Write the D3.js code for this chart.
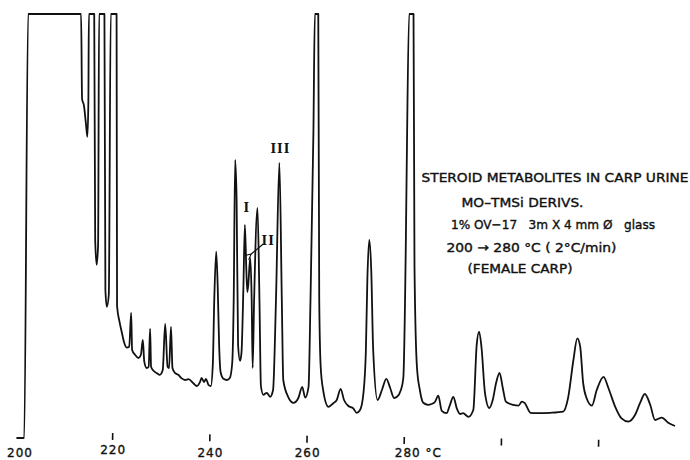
<!DOCTYPE html>
<html>
<head>
<meta charset="utf-8">
<script src="https://cdn.jsdelivr.net/npm/d3@7"></script>
<style>
  body { margin: 0; background: #fff; }
  svg { display: block; }
</style>
</head>
<body>
<script>
// column temperature (deg C), one per trace point
var temps = [
  200.3, 201.9, 202.7, 213.6, 213.8, 214.2, 214.6, 214.9, 215.1, 215.2,
  216.3, 216.5, 216.8, 217.1, 217.3, 218.4, 218.6, 218.9, 219.3, 219.7,
  220.9, 221.0, 221.5, 222.0, 222.4, 223.0, 223.5, 223.9, 224.1, 224.7,
  225.4, 225.9, 226.3, 226.6, 227.1, 227.5, 227.8, 228.0, 228.5, 229.2,
  229.8, 230.4, 230.9, 231.4, 231.7, 232.1, 232.4, 232.9, 233.6, 234.3,
  235.0, 235.7, 236.7, 237.4, 238.1, 238.4, 238.9, 239.3, 239.8, 240.3,
  240.7, 241.0, 241.4, 241.7, 242.0, 242.3, 242.9, 243.6, 244.2, 244.7,
  245.0, 245.3, 245.6, 245.9, 246.3, 246.6, 247.0, 247.3, 247.6, 247.8,
  248.0, 248.4, 248.7, 248.9, 249.2, 249.9, 250.3, 250.6, 251.1, 251.8,
  252.5, 253.1, 253.7, 254.4, 254.9, 255.2, 256.2, 257.3, 258.3, 259.1,
  259.7, 260.4, 260.8, 261.4, 261.7, 262.4, 262.6, 262.9, 263.4, 264.5,
  265.5, 266.2, 267.0, 267.7, 268.6, 269.6, 270.3, 271.0, 271.7, 272.2,
  272.5, 272.9, 273.3, 273.7, 274.6, 275.5, 276.4, 277.2, 278.0, 278.6,
  279.4, 279.9, 280.4, 280.6, 281.1, 282.0, 282.2, 282.7, 283.3, 284.0,
  285.0, 285.7, 286.4, 287.1, 287.8, 288.8, 289.5, 290.2, 290.9, 291.6,
  292.2, 293.3, 294.3, 295.0, 295.5, 296.0, 296.7, 297.6, 298.3, 299.0,
  299.7, 300.4, 301.0, 302.5, 303.6, 304.3, 304.9, 306.1, 307.3, 310.1,
  312.8, 313.8, 314.9, 315.7, 316.3, 316.9, 317.6, 318.7, 319.7, 321.1,
  322.1, 323.5, 324.8, 326.2, 327.6, 328.6, 329.6, 330.7, 331.7, 333.1,
  334.4, 335.8
];

// detector response (arbitrary units, 106 = pen at full scale)
var response = [
  0, 0, 106, 106, 84.8, 83, 78.5, 75.3, 84.5, 106,
  106, 49.5, 43.3, 48.3, 106, 106, 37, 32.8, 35.8, 106,
  106, 33, 29.1, 26.3, 24.1, 22.6, 22.8, 31.3, 22, 20.8,
  20, 20.8, 24.5, 19.1, 17.5, 17.8, 27.3, 17.8, 16.8, 16.2,
  15.8, 17, 28.5, 17.8, 17.5, 27.8, 17.5, 16.3, 15.8, 14.9,
  14.5, 14.7, 13.7, 13, 14.1, 15, 14, 14.8, 13.3, 13,
  18.3, 34.5, 46.6, 38.3, 23.3, 16.5, 14.8, 14.5, 15, 18.8,
  34.5, 69.5, 59.5, 23.3, 19.3, 21.3, 37.8, 53.3, 42, 36.5,
  38.3, 45, 34.5, 17.5, 34.5, 57.5, 34.5, 13, 10.8, 11.3,
  10.3, 12, 34.5, 68.8, 34.5, 14.5, 10.3, 8.8, 10, 12.8,
  10.1, 12.8, 34.5, 76.3, 106, 106, 34.5, 17.8, 12, 7.8,
  8.7, 9.5, 12.3, 9.5, 8, 7.4, 6.3, 7, 11.3, 22,
  39.5, 49.5, 42, 22, 9.5, 12, 14.8, 12.5, 10, 10.3,
  12, 15, 47, 67.8, 106, 106, 42.8, 17.8, 12, 8.8,
  8.3, 8.5, 9, 10.6, 6.8, 6.2, 8.3, 10.3, 7.4, 6,
  6.2, 5.3, 7, 23.3, 26.6, 22.5, 11.3, 7.5, 9.5, 13.8,
  16.3, 12.3, 9.1, 8.3, 8.1, 9.1, 8.7, 6.3, 6.2, 6.3,
  6.6, 10, 19.5, 24.9, 22.8, 13.8, 10, 8.1, 12, 15.3,
  12.5, 7.8, 4.9, 4.1, 5.8, 8.7, 11, 8.3, 4.5, 5.1,
  3.8, 3
];

var tickTemps = [220, 240, 260, 280, 300, 320];
var labelTemps = [200, 220, 240, 260, 280];
var labelTexts = ["200", "220", "240", "260", "280 °C"];

var peakNames = ["I", "II", "III"];
var peakTemps = [247.3, 248.4, 254.4];

var noteLines = [
  "STEROID METABOLITES IN CARP URINE",
  "MO\u2013TMSi DERIVS.",
  "1% OV\u221217   3m X 4 mm \u00D8   glass",
  "200 \u2192 280 \u00B0C ( 2\u00B0C/min)",
  "(FEMALE CARP)"
];

//sizing
var W = 690, H = 460;

var x = d3.scaleLinear().domain([220, 320]).range([112.2, 598.2]),
    y = d3.scaleLinear().domain([0, 106]).range([438, 14]);

var svg = d3.select("body").append("svg")
    .attr("width", W)
    .attr("height", H)
    .style("background", "#fff");

var data = temps.map(function(t, i) { return {t: t, r: response[i]}; });

// the trace
var line = d3.line()
    .x(d => x(d.t))
    .y(d => y(d.r))
    .curve(d3.curveMonotoneX);

svg.append("path")
   .datum(data)
   .attr("d", line)
   .attr("fill", "none")
   .attr("stroke", "#111")
   .attr("stroke-width", 1.8)
   .attr("stroke-linejoin", "round");

// tick marks (slightly skewed on the original paper)
var axis = d3.axisBottom(x)
    .tickValues(tickTemps)
    .tickSize(7)
    .tickSizeOuter(0)
    .tickFormat("");

var gx = svg.append("g")
   .attr("transform", "translate(0,433) rotate(0.8," + x(220) + ",0)")
   .call(axis);
gx.select(".domain").remove();
gx.selectAll(".tick line").attr("stroke", "#111").attr("stroke-width", 1.6);

// tick labels
svg.append("g").selectAll("text")
   .data(labelTemps)
   .enter()
   .append("text")
   .attr("x", (d, i) => i == labelTemps.length - 1 ? x(d) - 9 : x(d) + (i == 0 ? 5 : 1))
   .attr("y", (d, i) => i == 1 ? 454 : 456.5)
   .attr("text-anchor", (d, i) => i == labelTemps.length - 1 ? "start" : "middle")
   .attr("font-family", "DejaVu Sans")
   .attr("font-size", 12)
   .attr("letter-spacing", 1)
   .attr("fill", "#111")
   .attr("stroke", "#111")
   .attr("stroke-width", 0.35)
   .text((d, i) => labelTexts[i]);

// peak labels
function respAt(t) {
  var i = temps.indexOf(t);
  return response[i];
}
var peakOffsets = [[2, -13], [18, -13], [1, -10]];

svg.append("defs").append("marker")
   .attr("id", "arr")
   .attr("viewBox", "0 0 10 10")
   .attr("refX", 1).attr("refY", 5)
   .attr("markerWidth", 6).attr("markerHeight", 6)
   .attr("orient", "auto-start-reverse")
   .append("path")
   .attr("d", "M9,1 L1,5 L9,9")
   .attr("fill", "none")
   .attr("stroke", "#111")
   .attr("stroke-width", 1.5);

peakNames.forEach(function(name, i) {
  var px = x(peakTemps[i]), py = y(respAt(peakTemps[i]));
  svg.append("text")
     .attr("x", px + peakOffsets[i][0])
     .attr("y", py + peakOffsets[i][1])
     .attr("text-anchor", "middle")
     .attr("font-family", "DejaVu Serif")
     .attr("font-weight", "bold")
     .attr("font-size", 12)
     .attr("letter-spacing", 1)
     .attr("fill", "#111")
     .text(name);
  if (name == "II") {
    svg.append("line")
       .attr("x1", px + 13).attr("y1", py - 14)
       .attr("x2", px + 1).attr("y2", py - 4)
       .attr("stroke", "#111")
       .attr("stroke-width", 1.2)
       .attr("marker-end", "url(#arr)");
  }
});

// legend / run conditions
var noteX = [421.5, 461.5, 451, 446.5, 467.5],
    noteY = [182, 207, 229, 252, 273],
    noteLen = [267, 122, 204, 170, 105];

svg.append("g").selectAll("text")
   .data(noteLines)
   .enter()
   .append("text")
   .attr("x", (d, i) => noteX[i])
   .attr("y", (d, i) => noteY[i])
   .attr("textLength", (d, i) => noteLen[i])
   .attr("lengthAdjust", "spacingAndGlyphs")
   .attr("font-family", "DejaVu Sans")
   .attr("font-size", 13)
   .attr("fill", "#111")
   .attr("stroke", "#111")
   .attr("stroke-width", 0.4)
   .style("white-space", "pre")
   .text(d => d);
</script>
</body>
</html>
